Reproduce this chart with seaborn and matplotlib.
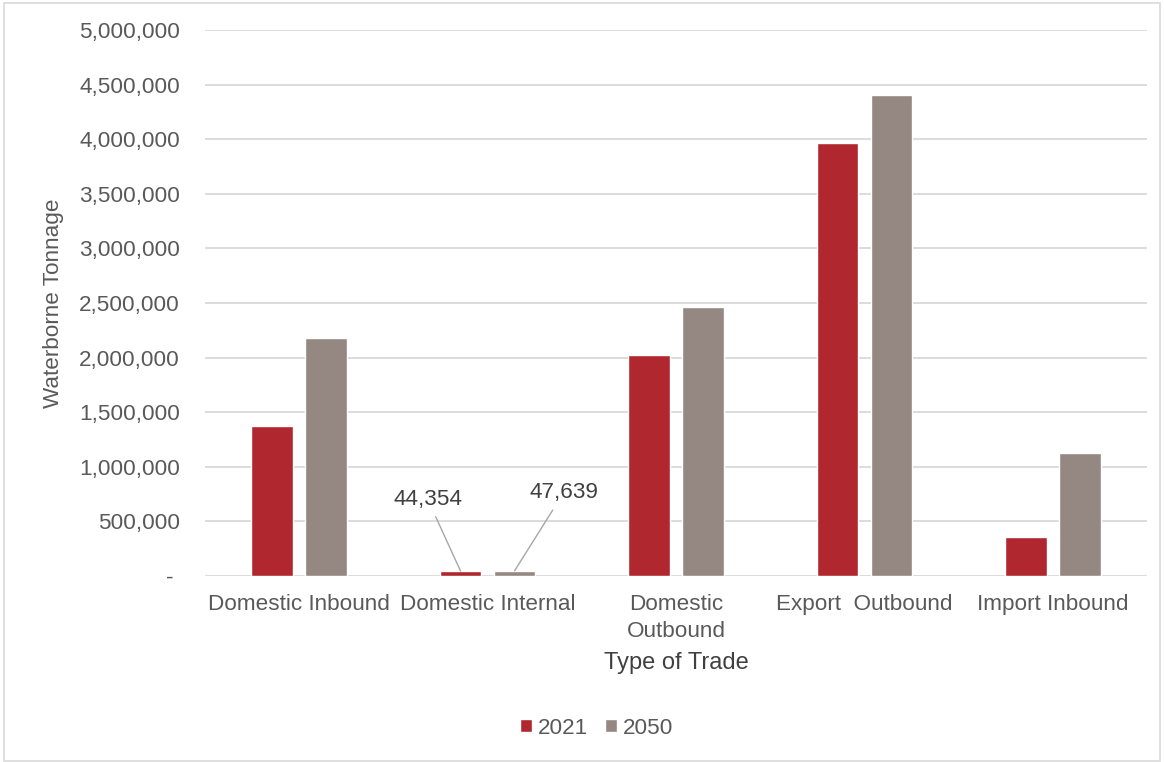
import matplotlib
matplotlib.use("Agg")
import matplotlib.pyplot as plt
from matplotlib.patches import Rectangle
from matplotlib.ticker import FuncFormatter, MultipleLocator
import seaborn as sns
import pandas as pd

categories = ["Domestic Inbound", "Domestic Internal", "Domestic\nOutbound",
              "Export  Outbound", "Import Inbound"]
years = ["2021", "2050"]
values_2021 = [1372000, 44354, 2027000, 3961000, 358000]
values_2050 = [2177000, 47639, 2466000, 4409000, 1127000]

df = pd.DataFrame({
    "Type of Trade": categories * 2,
    "Year": [years[0]] * len(categories) + [years[1]] * len(categories),
    "Tonnage": values_2021 + values_2050,
})

sns.set_theme(style="white")
plt.rcParams["font.family"] = ["Liberation Sans", "DejaVu Sans"]

RED = "#B0272F"
GREY = "#958781"
TXT = "#595959"
FS = 16.2

fig = plt.figure(figsize=(11.64, 7.62), dpi=100)
ax = fig.add_axes([205 / 1164, 1 - 576 / 762, 942 / 1164, 546 / 762])

sns.barplot(data=df, x="Type of Trade", y="Tonnage", hue="Year",
            palette=[RED, GREY], saturation=1, width=0.573, gap=0.23,
            ax=ax, legend=True, zorder=3)

ax.set_ylim(0, 5_000_000)
ax.yaxis.set_major_locator(MultipleLocator(500_000))
ax.yaxis.set_major_formatter(FuncFormatter(lambda v, p: "- " if v == 0 else f"{v:,.0f}"))
ax.grid(axis="y", color="#D9D9D9", linewidth=1.3, zorder=0)
ax.set_axisbelow(True)
for s in ax.spines.values():
    s.set_visible(False)
ax.tick_params(axis="y", length=0, pad=18, labelsize=FS, labelcolor=TXT)
ax.tick_params(axis="x", length=0, pad=13, labelsize=FS, labelcolor=TXT)
for lbl in ax.get_xticklabels():
    lbl.set_linespacing(1.35)

ax.set_ylabel("Waterborne Tonnage", fontsize=FS, color=TXT)
ax.yaxis.set_label_coords(-0.150, 0.5)
ax.set_xlabel("Type of Trade", fontsize=17, color="#404040")
ax.xaxis.set_label_coords(0.5, -0.14)

# callouts for the small Domestic Internal bars
offsets = [(-33, 72), (49, 78)]
for cont, (dx, dy) in zip(ax.containers, offsets):
    bar = cont.patches[1]
    xc = bar.get_x() + bar.get_width() / 2
    h = bar.get_height()
    ax.annotate(f"{h:,.0f}", xy=(xc, h), xytext=(dx, dy), textcoords="offset pixels",
                ha="center", va="center", fontsize=FS, color="#404040",
                arrowprops=dict(arrowstyle="-", color="#A6A6A6", lw=1.0,
                                shrinkA=3, shrinkB=0))

leg = ax.legend(loc="center", bbox_to_anchor=(597 / 1164, 1 - 728 / 762),
                bbox_transform=fig.transFigure, ncol=2, frameon=False,
                fontsize=FS, handlelength=0.5, handleheight=0.5,
                handletextpad=0.3, columnspacing=0.75, title=None)
for t in leg.get_texts():
    t.set_color(TXT)

fig.patches.append(Rectangle((4 / 1164, 1 / 762), 1156 / 1164, 758 / 762,
                             transform=fig.transFigure, fill=False,
                             edgecolor="#D9D9D9", linewidth=1.2))

fig.savefig("out.png", dpi=100, facecolor="white")
